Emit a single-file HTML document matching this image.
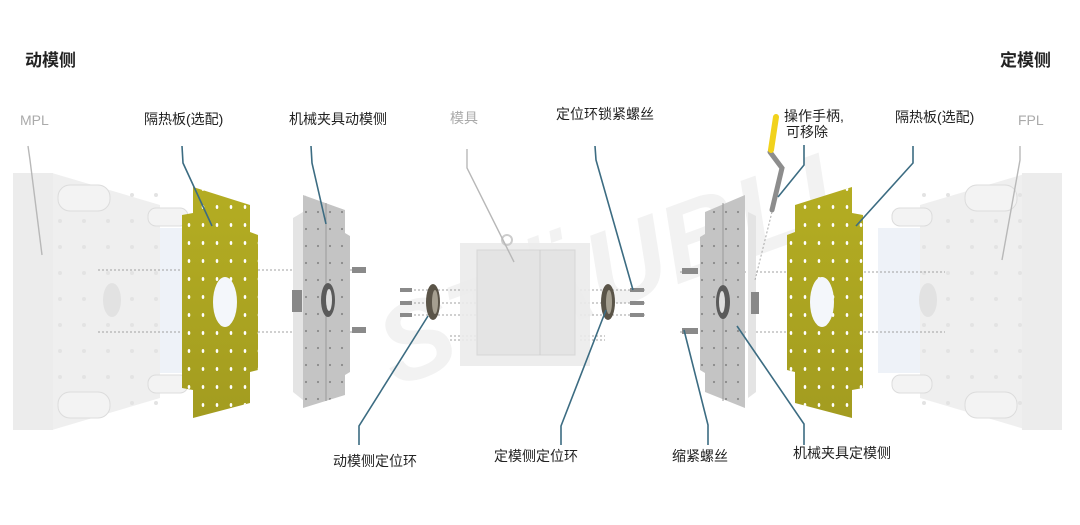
<!DOCTYPE html>
<html><head><meta charset="utf-8">
<style>
html,body{margin:0;padding:0;background:#fff;}
svg{display:block;}
text{font-family:"Liberation Sans","Noto Sans CJK SC",sans-serif;}
</style></head>
<body>
<svg width="1080" height="525" viewBox="0 0 1080 525" xmlns="http://www.w3.org/2000/svg">
<defs>
<pattern id="hy" width="14" height="18" patternUnits="userSpaceOnUse"><ellipse cx="7" cy="9" rx="1.3" ry="2" fill="#fff"/></pattern>
<pattern id="hg" width="12" height="17" patternUnits="userSpaceOnUse"><circle cx="6" cy="8" r="1.1" fill="#8a8a8a"/></pattern>
<pattern id="hw" width="24" height="26" patternUnits="userSpaceOnUse"><circle cx="12" cy="13" r="2" fill="#e3e3e3"/></pattern>
<linearGradient id="gy" x1="0" y1="0" x2="0" y2="1"><stop offset="0" stop-color="#b4ad22"/><stop offset="1" stop-color="#a39c20"/></linearGradient>
</defs>

<text x="360" y="330" font-size="110" font-weight="bold" font-style="italic" fill="#f2f2f2" transform="rotate(-20 540 260)">STÄUBLI</text>

<!-- LEFT MPL block -->
<polygon points="52,173 160,205 160,398 52,430" fill="#efefef"/>
<rect x="160" y="228" width="25" height="145" fill="#eef2f8"/>
<rect x="13" y="173" width="40" height="257" fill="#ececec"/>
<rect x="52" y="185" width="108" height="235" fill="url(#hw)"/>
<rect x="58" y="185" width="52" height="26" rx="12" fill="#f3f3f3" stroke="#dcdcdc"/>
<rect x="148" y="208" width="40" height="18" rx="8" fill="#f3f3f3" stroke="#dcdcdc"/>
<rect x="58" y="392" width="52" height="26" rx="12" fill="#f3f3f3" stroke="#dcdcdc"/>
<rect x="148" y="375" width="40" height="18" rx="8" fill="#f3f3f3" stroke="#dcdcdc"/>
<ellipse cx="112" cy="300" rx="9" ry="17" fill="#e2e2e2"/>

<!-- RIGHT FPL block -->
<polygon points="1028,173 920,205 920,398 1028,430" fill="#efefef"/>
<rect x="878" y="228" width="42" height="145" fill="#eef2f8"/>
<rect x="1022" y="173" width="40" height="257" fill="#ececec"/>
<rect x="920" y="185" width="102" height="235" fill="url(#hw)"/>
<rect x="965" y="185" width="52" height="26" rx="12" fill="#f3f3f3" stroke="#dcdcdc"/>
<rect x="892" y="208" width="40" height="18" rx="8" fill="#f3f3f3" stroke="#dcdcdc"/>
<rect x="965" y="392" width="52" height="26" rx="12" fill="#f3f3f3" stroke="#dcdcdc"/>
<rect x="892" y="375" width="40" height="18" rx="8" fill="#f3f3f3" stroke="#dcdcdc"/>
<ellipse cx="928" cy="300" rx="9" ry="17" fill="#e2e2e2"/>

<g stroke="#a0a0a0" stroke-width="1" stroke-dasharray="2,2">
<line x1="98" y1="270" x2="365" y2="270"/><line x1="98" y1="332" x2="365" y2="332"/>
<line x1="680" y1="272" x2="945" y2="272"/><line x1="680" y1="332" x2="945" y2="332"/>
<line x1="410" y1="290" x2="500" y2="290"/><line x1="410" y1="303" x2="500" y2="303"/><line x1="410" y1="315" x2="500" y2="315"/>
<line x1="580" y1="290" x2="645" y2="290"/><line x1="580" y1="303" x2="645" y2="303"/><line x1="580" y1="315" x2="645" y2="315"/>
<line x1="450" y1="336" x2="480" y2="336"/><line x1="450" y1="340" x2="480" y2="340"/>
<line x1="580" y1="336" x2="605" y2="336"/><line x1="580" y1="340" x2="605" y2="340"/>
</g>

<!-- left yellow plate -->
<polygon id="yl" points="193,187 250,205 250,232 258,235 258,370 250,372 250,403 193,418 193,390 182,388 182,215 193,213" fill="url(#gy)"/>
<polygon points="193,187 250,205 250,232 258,235 258,370 250,372 250,403 193,418 193,390 182,388 182,215 193,213" fill="url(#hy)"/>
<ellipse cx="225" cy="302" rx="12" ry="25" fill="#f4f7fb"/>

<!-- right yellow plate -->
<polygon points="852,187 795,205 795,232 787,235 787,370 795,372 795,403 852,418 852,390 863,388 863,215 852,213" fill="url(#gy)"/>
<polygon points="852,187 795,205 795,232 787,235 787,370 795,372 795,403 852,418 852,390 863,388 863,215 852,213" fill="url(#hy)"/>
<ellipse cx="822" cy="302" rx="12" ry="25" fill="#f4f7fb"/>

<!-- left clamp plate -->
<polygon points="293,218 303,212 303,400 293,392" fill="#e4e4e4"/>
<polygon points="303,195 345,210 345,233 350,236 350,372 345,375 345,395 303,408" fill="#c4c4c4"/>
<polygon points="303,195 345,210 345,233 350,236 350,372 345,375 345,395 303,408" fill="url(#hg)"/>
<line x1="326" y1="203" x2="326" y2="401" stroke="#9a9a9a"/>
<ellipse cx="328" cy="300" rx="7" ry="17" fill="#5a5a5a"/><ellipse cx="329" cy="300" rx="3" ry="11" fill="#ddd"/>
<rect x="292" y="290" width="10" height="22" fill="#888"/>

<!-- right clamp plate -->
<polygon points="748,212 756,216 756,392 748,398" fill="#e4e4e4"/>
<polygon points="745,195 705,212 705,234 700,237 700,370 705,373 705,392 745,408" fill="#c4c4c4"/>
<polygon points="745,195 705,212 705,234 700,237 700,370 705,373 705,392 745,408" fill="url(#hg)"/>
<line x1="723" y1="203" x2="723" y2="401" stroke="#9a9a9a"/>
<ellipse cx="723" cy="302" rx="7" ry="17" fill="#5a5a5a"/><ellipse cx="722" cy="302" rx="3" ry="11" fill="#ddd"/>
<rect x="751" y="292" width="8" height="22" fill="#888"/>

<g fill="#8a8a8a">
<rect x="352" y="267" width="14" height="6"/><rect x="352" y="327" width="14" height="6"/>
<rect x="682" y="268" width="16" height="6"/><rect x="682" y="328" width="16" height="6"/>
<rect x="400" y="288" width="12" height="4"/><rect x="400" y="301" width="12" height="4"/><rect x="400" y="313" width="12" height="4"/>
<rect x="630" y="288" width="14" height="4"/><rect x="630" y="301" width="14" height="4"/><rect x="630" y="313" width="14" height="4"/>
</g>

<ellipse cx="433" cy="302" rx="7" ry="18" fill="#5a5448"/><ellipse cx="435" cy="302" rx="3" ry="12" fill="#a59f90"/>
<ellipse cx="608" cy="302" rx="7" ry="18" fill="#5a5448"/><ellipse cx="609" cy="302" rx="3" ry="12" fill="#a59f90"/>

<!-- mould -->
<rect x="460" y="243" width="130" height="123" fill="#ebebeb" opacity="0.9"/>
<rect x="477" y="250" width="98" height="105" fill="#e4e4e4" stroke="#d6d6d6"/>
<line x1="540" y1="250" x2="540" y2="355" stroke="#cfcfcf"/>
<circle cx="507" cy="240" r="5" fill="none" stroke="#ccc" stroke-width="2"/>

<!-- handle -->
<polyline points="770,152 782,168 772,210" fill="none" stroke="#8d8d8d" stroke-width="5" stroke-linecap="round"/>
<line x1="776" y1="117" x2="771" y2="150" stroke="#f1d21c" stroke-width="6" stroke-linecap="round"/>
<line x1="772" y1="212" x2="755" y2="280" stroke="#aaa" stroke-dasharray="2,2"/>

<g fill="none" stroke="#3c6c82" stroke-width="1.6">
<polyline points="182,146 183,163 212,226"/>
<polyline points="311,146 312,163 326,224"/>
<polyline points="359,445 359,426 428,316"/>
<polyline points="561,445 561,426 606,310"/>
<polyline points="595,146 596,160 633,290"/>
<polyline points="708,445 708,425 684,330"/>
<polyline points="804,445 804,424 737,326"/>
<polyline points="913,146 913,163 856,226"/>
<polyline points="804,145 804,165 778,197"/>
</g>
<g fill="none" stroke="#b8b8b8" stroke-width="1.4">
<polyline points="28,146 30,160 42,255"/>
<polyline points="467,149 467,168 514,262"/>
<polyline points="1020,146 1020,160 1002,260"/>
</g>

<g font-size="14" fill="#222">
<text x="25" y="66" font-size="17" font-weight="bold">动模侧</text>
<text x="1000" y="66" font-size="17" font-weight="bold">定模侧</text>
<text x="20" y="125" fill="#aaa">MPL</text>
<text x="144" y="124">隔热板(选配)</text>
<text x="289" y="124">机械夹具动模侧</text>
<text x="450" y="123" fill="#aaa">模具</text>
<text x="556" y="119">定位环锁紧螺丝</text>
<text x="784" y="121">操作手柄,</text>
<text x="786" y="137">可移除</text>
<text x="895" y="122">隔热板(选配)</text>
<text x="1018" y="125" fill="#aaa">FPL</text>
<text x="333" y="466">动模侧定位环</text>
<text x="494" y="461">定模侧定位环</text>
<text x="672" y="461">缩紧螺丝</text>
<text x="793" y="458">机械夹具定模侧</text>
</g>
</svg>
</body></html>
